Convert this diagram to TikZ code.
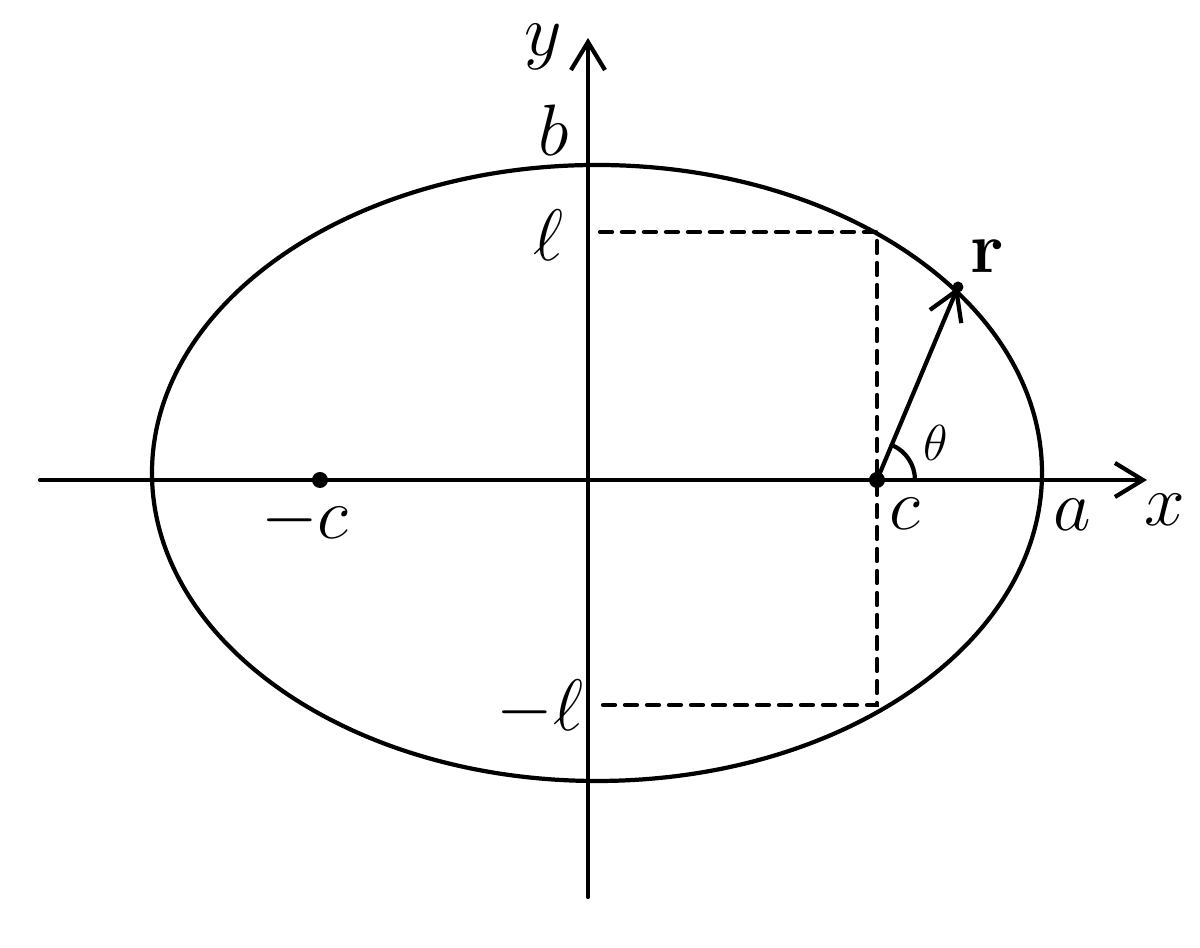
\documentclass[tikz,border=0pt]{standalone}
\usetikzlibrary{arrows.meta}
\begin{document}
\begin{tikzpicture}[line width=1.2pt, line cap=round,
  lbl/.style={font=\fontsize{22}{26}\selectfont, inner sep=0pt},
  barb/.style={-{Straight Barb[length=2.8mm,width=3.4mm,line width=1.2pt]}},
  focus/.style={circle, fill, inner sep=0pt, minimum size=#1},
  dashline/.style={dash pattern=on 1.2mm off 1mm}]
\useasboundingbox (-5.88,-4.68) rectangle (6.12,4.80);
\def\cx{2.89};
\def\mcx{-2.68};
\def\ly{2.48};
\def\mly{-2.25};

% axes
\coordinate (xl) at (-5.48,0);
\coordinate (xr) at (5.59,0);
\coordinate (yb) at (0,-4.17);
\coordinate (yt) at (0,4.42);
\draw[barb] (xl) -- (xr);
\draw[barb] (yb) -- (yt);

% ellipse
\draw (0.09,0.07) ellipse [x radius=4.45, y radius=3.08];

% dashed box at c
\coordinate (lt) at (0.12,\ly);
\coordinate (lb) at (0.12,\mly);
\coordinate (ct) at (\cx,\ly);
\coordinate (cb) at (\cx,\mly);
\draw[dashline] (lt) -- (ct) -- (cb) -- (lb);

% foci and r
\node[focus=1.6mm] (C) at (\cx,0) {};
\node[focus=1.6mm] (MC) at (\mcx,0) {};
\node[focus=1.1mm] (R) at (3.70,1.93) {};
\draw[barb] (C.center) -- (R.center);
\draw (\cx+0.38,0) arc[start angle=0, end angle=67, radius=0.38];

% labels
\node[lbl] (ylab) at (-0.45,4.33) {$y$};
\node[lbl] (xlab) at (5.77,-0.30) {$x$};
\node[lbl] (blab) at (-0.34,3.50) {$b$};
\node[lbl] (llab) at (-0.40,2.45) {$\ell$};
\node[lbl] (mllab) at (-0.48,-2.28) {$-\ell$};
\node[lbl] (clab) at (3.17,-0.34) {$c$};
\node[lbl] (mclab) at (-2.83,-0.40) {$-c$};
\node[lbl] (alab) at (4.84,-0.35) {$a$};
\node[lbl, font=\fontsize{15}{18}\selectfont] (tlab) at (3.48,0.37) {$\theta$};
\node[lbl] (rlab) at (3.99,2.24) {$\mathbf{r}$};

\end{tikzpicture}
\end{document}
